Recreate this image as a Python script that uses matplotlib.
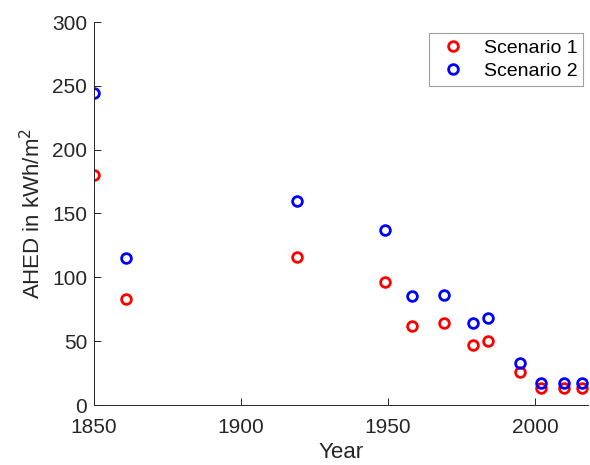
import matplotlib
matplotlib.use("Agg")
import matplotlib.pyplot as plt

# data
years = [1850, 1861, 1919, 1949, 1958, 1969, 1979, 1984, 1995, 2002, 2010, 2016]
scenario_1 = [180, 83, 116, 96, 62, 64, 47, 50, 26, 13, 13, 13]
scenario_2 = [244, 115, 160, 137, 85, 86, 64, 68, 33, 17, 17, 17]

plt.rcParams['font.family'] = ['Liberation Sans', 'DejaVu Sans']
axis_color = '#262626'

fig = plt.figure(figsize=(5.9, 4.65), dpi=100)
ax = fig.add_axes([94 / 590, 60 / 465, 494 / 590, 383 / 465])

ax.plot(years, scenario_1, 'o', mfc='none', mec='#ff0000', mew=2, ms=7,
        label='Scenario 1')
ax.plot(years, scenario_2, 'o', mfc='none', mec='#0000ff', mew=2, ms=7,
        label='Scenario 2')

ax.set_xlim(1850, 2018)
ax.set_ylim(0, 300)
ax.set_xticks([1850, 1900, 1950, 2000])
ax.set_yticks(range(0, 301, 50))

for side in ['top', 'right']:
    ax.spines[side].set_visible(False)
for side in ['left', 'bottom']:
    ax.spines[side].set_color(axis_color)
    ax.spines[side].set_linewidth(0.7)
ax.tick_params(direction='in', length=5, width=0.7, colors=axis_color,
               labelsize=15)
ax.tick_params(axis='x', pad=9)
ax.tick_params(axis='y', pad=5)

ax.set_xlabel('Year', fontsize=16, color=axis_color, labelpad=4)
ax.set_ylabel('AHED in kWh/m$^2$', fontsize=16, color=axis_color, labelpad=5)

leg = ax.legend(loc='upper right', bbox_to_anchor=(0.99, 0.971), fontsize=14,
                fancybox=False, edgecolor='#a0a0a0', framealpha=1,
                borderaxespad=0, handletextpad=0.6, handlelength=1.9,
                borderpad=0.3, labelspacing=0.3)
leg.get_frame().set_linewidth(0.8)

fig.savefig('out.png', dpi=100)
